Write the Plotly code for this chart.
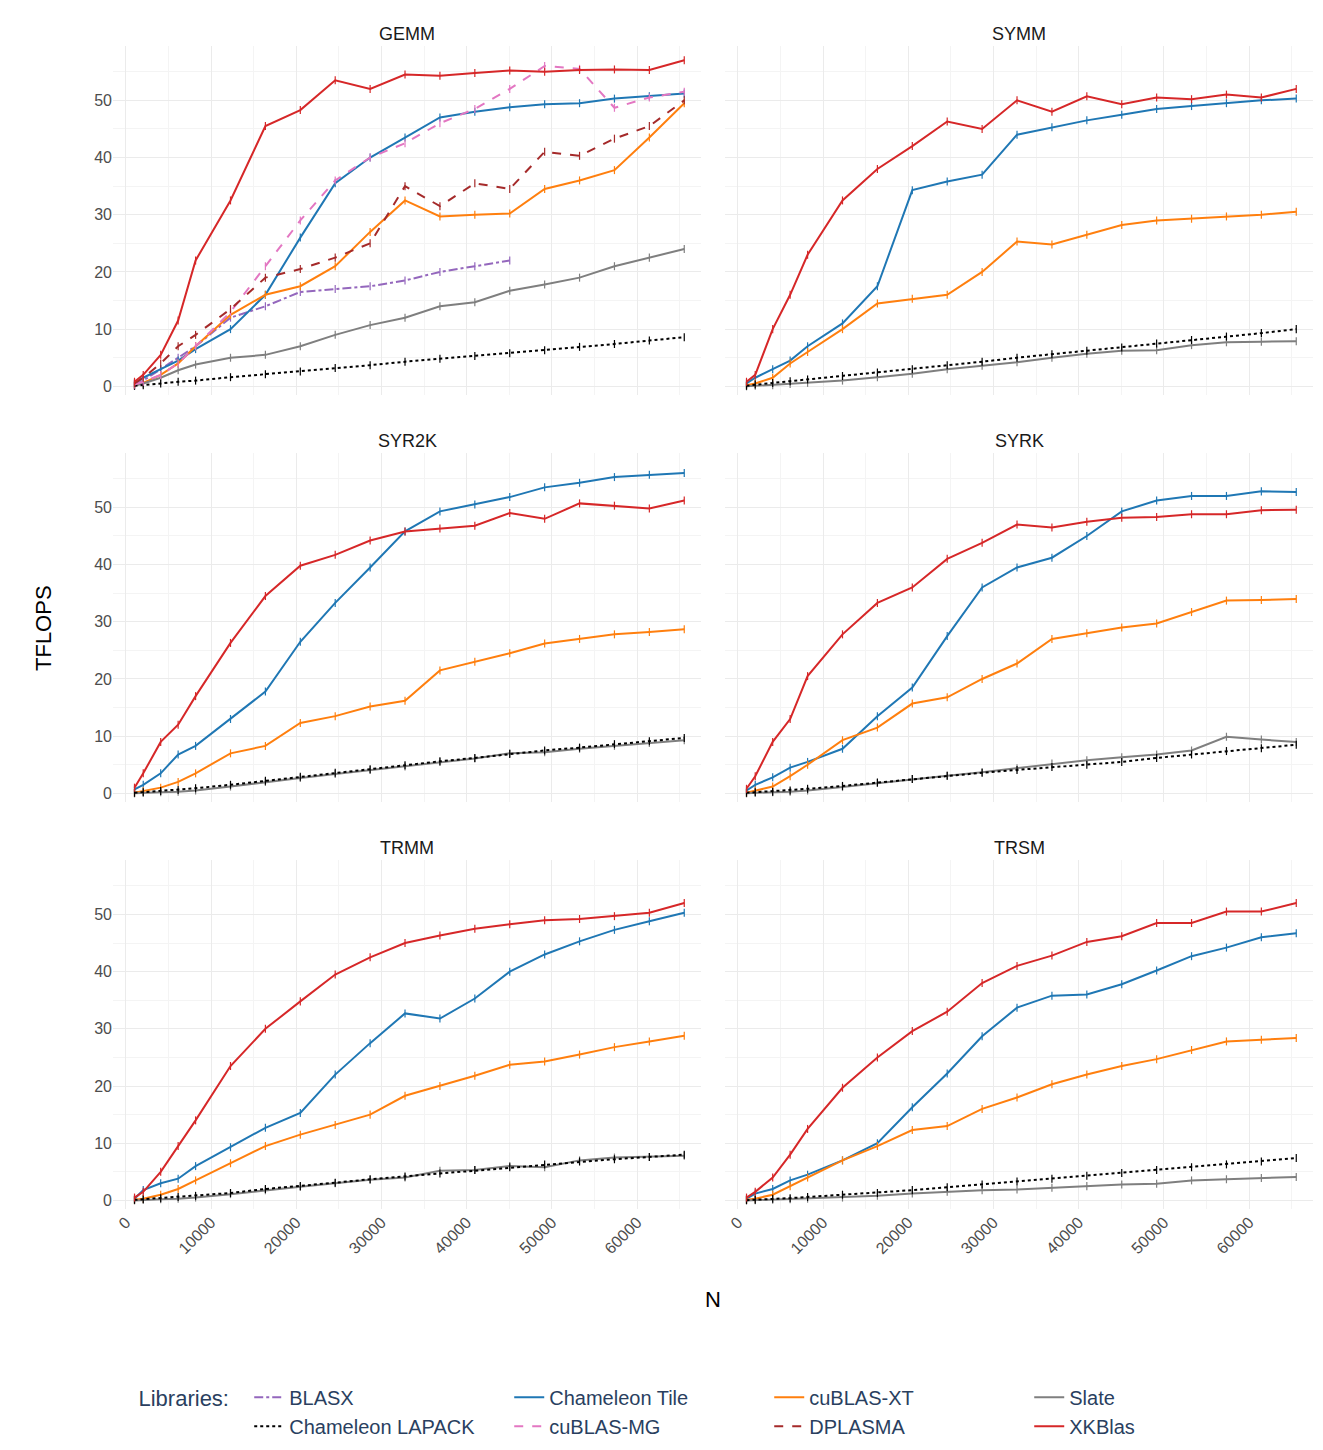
import plotly.graph_objects as go
from plotly.subplots import make_subplots

N = [1024, 2048, 4096, 6144, 8192, 12288, 16384, 20480, 24576, 28672, 32768,
     36864, 40960, 45056, 49152, 53248, 57344, 61440, 65536]

# TFLOPS per routine and library
gemm = {
    "XKBlas": [0.8, 2, 5.5, 11.5, 22, 32.5, 45.5, 48.3, 53.5, 52, 54.5, 54.3, 54.8, 55.2, 55, 55.3, 55.4, 55.3, 57],
    "Chameleon Tile": [0.5, 1.5, 3, 4.5, 6.5, 10, 16, 26, 35.5, 40, 43.5, 47, 48, 48.8, 49.3, 49.5, 50.3, 50.7, 51.2],
    "cuBLAS-MG": [0.3, 0.8, 2, 4, 7, 13, 21, 29, 36, 40, 42.5, 46, 48.5, 52, 56, 55.5, 48.7, 50.5, 51.5],
    "cuBLAS-XT": [0.2, 0.6, 2, 4, 7, 12.5, 16, 17.5, 21, 27, 32.5, 29.7, 30, 30.2, 34.5, 36, 37.8, 43.5, 49.5],
    "DPLASMA": [0.5, 1.5, 4, 7, 9, 13.5, 19, 20.5, 22.5, 25, 35, 31.5, 35.5, 34.5, 41, 40.3, 43.3, 45.5, 50],
    "BLASX": [0.3, 1, 3, 5, 7, 12, 14, 16.5, 17, 17.5, 18.5, 20, 21, 22],
    "Slate": [0.1, 0.5, 1.5, 2.8, 3.8, 5, 5.5, 7, 9, 10.7, 12, 14, 14.7, 16.7, 17.8, 19, 21, 22.5, 24],
    "Chameleon LAPACK": [0.1, 0.2, 0.5, 0.8, 1, 1.6, 2.1, 2.6, 3.2, 3.7, 4.3, 4.8, 5.3, 5.8, 6.3, 6.9, 7.4, 8, 8.6],
}
symm = {
    "XKBlas": [0.8, 2, 10, 16, 23, 32.5, 38, 42, 46.3, 45, 50, 48, 50.7, 49.3, 50.5, 50.2, 51, 50.5, 52],
    "Chameleon Tile": [0.5, 1.5, 3, 4.5, 7, 11, 17.5, 34.3, 35.8, 37, 44, 45.3, 46.5, 47.5, 48.5, 49, 49.5, 50, 50.3],
    "cuBLAS-XT": [0.2, 0.5, 1.5, 4, 6, 10, 14.5, 15.3, 16, 20, 25.3, 24.8, 26.5, 28.2, 29, 29.3, 29.7, 30, 30.5],
    "Slate": [0, 0.1, 0.2, 0.4, 0.6, 1, 1.6, 2.2, 3, 3.6, 4.2, 5, 5.7, 6.2, 6.3, 7.2, 7.7, 7.8, 7.9],
    "Chameleon LAPACK": [0.1, 0.3, 0.6, 0.9, 1.2, 1.8, 2.4, 3, 3.7, 4.3, 5, 5.6, 6.2, 6.8, 7.5, 8.1, 8.7, 9.3, 10],
}
syr2k = {
    "XKBlas": [1, 3.5, 9, 12, 17, 26.3, 34.5, 39.8, 41.7, 44.2, 45.8, 46.3, 46.8, 49, 48, 50.7, 50.3, 49.8, 51.2],
    "Chameleon Tile": [0.7, 1.5, 3.5, 6.8, 8.3, 13, 17.8, 26.5, 33.3, 39.5, 45.8, 49.3, 50.5, 51.8, 53.5, 54.3, 55.3, 55.7, 56],
    "cuBLAS-XT": [0.1, 0.4, 1, 2, 3.5, 7, 8.3, 12.3, 13.5, 15.2, 16.2, 21.5, 23, 24.5, 26.2, 27, 27.8, 28.2, 28.7],
    "Slate": [0, 0.1, 0.2, 0.3, 0.5, 1.2, 2, 2.7, 3.4, 4.1, 4.7, 5.5, 6.1, 7, 7.2, 7.8, 8.3, 8.8, 9.3],
    "Chameleon LAPACK": [0.1, 0.2, 0.4, 0.6, 0.9, 1.5, 2.2, 2.9, 3.6, 4.2, 4.9, 5.6, 6.2, 6.9, 7.5, 8, 8.6, 9.1, 9.7],
}
syrk = {
    "XKBlas": [0.8, 3, 9, 13, 20.5, 27.8, 33.3, 36, 41, 43.8, 47, 46.5, 47.5, 48.2, 48.3, 48.8, 48.8, 49.5, 49.6],
    "Chameleon Tile": [0.5, 1.5, 2.8, 4.5, 5.5, 7.8, 13.5, 18.5, 27.5, 36, 39.5, 41.2, 45, 49.3, 51.2, 52, 52, 52.8, 52.7],
    "cuBLAS-XT": [0.1, 0.5, 1.2, 3, 5, 9.3, 11.5, 15.7, 16.8, 20, 22.7, 27, 28, 29, 29.7, 31.7, 33.7, 33.8, 34],
    "Slate": [0, 0.1, 0.2, 0.3, 0.5, 1.1, 1.8, 2.5, 3.1, 3.7, 4.4, 5.2, 5.8, 6.3, 6.8, 7.5, 9.9, 9.4, 9],
    "Chameleon LAPACK": [0.1, 0.2, 0.3, 0.5, 0.8, 1.3, 1.9, 2.5, 3.1, 3.6, 4.1, 4.6, 5, 5.5, 6.2, 6.8, 7.4, 7.9, 8.5],
}
trmm = {
    "XKBlas": [0.5, 1.5, 5, 9.5, 14, 23.5, 30, 34.8, 39.5, 42.5, 45, 46.3, 47.5, 48.3, 49, 49.2, 49.7, 50.3, 52],
    "Chameleon Tile": [0.3, 1.8, 3, 3.8, 6, 9.3, 12.7, 15.3, 22, 27.5, 32.7, 31.8, 35.3, 40, 43, 45.3, 47.3, 48.8, 50.3],
    "cuBLAS-XT": [0.1, 0.3, 1, 2, 3.5, 6.5, 9.5, 11.5, 13.2, 15, 18.3, 20, 21.8, 23.7, 24.3, 25.5, 26.8, 27.8, 28.8],
    "Slate": [0, 0.1, 0.2, 0.3, 0.5, 1.1, 1.8, 2.4, 3, 3.6, 4, 5.2, 5.3, 6, 5.8, 7, 7.5, 7.6, 7.8],
    "Chameleon LAPACK": [0.1, 0.2, 0.4, 0.6, 0.8, 1.3, 2, 2.5, 3.1, 3.7, 4.2, 4.7, 5.3, 5.8, 6.3, 6.8, 7.2, 7.6, 8],
}
trsm = {
    "XKBlas": [0.5, 1.5, 4, 8, 12.5, 19.7, 25, 29.6, 33, 38, 41, 42.8, 45.2, 46.2, 48.5, 48.5, 50.5, 50.5, 52],
    "Chameleon Tile": [0.3, 1.2, 2, 3.5, 4.5, 7, 10, 16.3, 22.2, 28.7, 33.7, 35.8, 36, 37.8, 40.2, 42.7, 44.2, 46, 46.7],
    "cuBLAS-XT": [0.1, 0.3, 1, 2.5, 4, 7, 9.5, 12.3, 13, 16, 18, 20.3, 22, 23.5, 24.7, 26.3, 27.8, 28.1, 28.4],
    "Slate": [0, 0.05, 0.1, 0.2, 0.3, 0.5, 0.8, 1.2, 1.5, 1.8, 1.9, 2.2, 2.5, 2.8, 2.9, 3.5, 3.7, 3.9, 4.1],
    "Chameleon LAPACK": [0.05, 0.1, 0.3, 0.4, 0.6, 1, 1.3, 1.8, 2.3, 2.8, 3.3, 3.8, 4.3, 4.8, 5.3, 5.8, 6.3, 6.8, 7.4],
}

panels = [("GEMM", gemm), ("SYMM", symm), ("SYR2K", syr2k),
          ("SYRK", syrk), ("TRMM", trmm), ("TRSM", trsm)]

x_ticks = [0, 10000, 20000, 30000, 40000, 50000, 60000]
y_ticks = [0, 10, 20, 30, 40, 50]

# legend order (row-major to get ggplot's column-major look)
libs = ["BLASX", "Chameleon Tile", "cuBLAS-XT", "Slate",
        "Chameleon LAPACK", "cuBLAS-MG", "DPLASMA", "XKBlas"]
styles = {
    "BLASX": ("#9467bd", "dashdot"),
    "Chameleon LAPACK": ("black", "dot"),
    "Chameleon Tile": ("#1f77b4", "solid"),
    "cuBLAS-MG": ("#e377c2", "dash"),
    "cuBLAS-XT": ("#ff7f0e", "solid"),
    "DPLASMA": ("#a52a2a", "dash"),
    "Slate": ("#7f7f7f", "solid"),
    "XKBlas": ("#d62728", "solid"),
}

fig = make_subplots(rows=3, cols=2, shared_xaxes=True, shared_yaxes=True,
                    subplot_titles=[p[0] for p in panels],
                    horizontal_spacing=0.02, vertical_spacing=0.05)

for lib in libs:
    color, dash = styles[lib]
    first = True
    for i, (name, data) in enumerate(panels):
        if lib not in data:
            continue
        y = data[lib]
        fig.add_trace(go.Scatter(
            x=N[:len(y)], y=y, mode="lines", name=lib, legendgroup=lib,
            showlegend=first,
            line=dict(color=color, dash=dash, width=2),
            error_y=dict(type="constant", value=0.7, color=color, thickness=1.2, width=0),
        ), row=i // 2 + 1, col=i % 2 + 1)
        first = False

grid = "#ebebeb"
fig.update_xaxes(range=[-1500, 67500], tickvals=x_ticks, ticktext=[str(v) for v in x_ticks],
                 tickangle=-45, showgrid=True, gridcolor=grid, gridwidth=1.3,
                 minor=dict(dtick=5000, tick0=0, showgrid=True, gridcolor="#f4f4f4"),
                 zeroline=False, showline=False,
                 tickfont=dict(size=16, color="#4d4d4d"))
fig.update_yaxes(range=[-1.5, 59.5], tickvals=y_ticks,
                 showgrid=True, gridcolor=grid, gridwidth=1.3,
                 minor=dict(dtick=5, tick0=0, showgrid=True, gridcolor="#f4f4f4"),
                 zeroline=False, showline=False,
                 tickfont=dict(size=16, color="#4d4d4d"))
fig.update_annotations(font=dict(size=18, color="#1a1a1a"))

fig.add_annotation(text="N", xref="paper", yref="paper", x=0.5, y=-0.09,
                   showarrow=False, font=dict(size=22, color="black"))
fig.add_annotation(text="TFLOPS", xref="paper", yref="paper", x=-0.07, y=0.5,
                   textangle=-90, showarrow=False, font=dict(size=22, color="black"))

fig.update_layout(
    width=1323, height=1450, plot_bgcolor="white", paper_bgcolor="white",
    font=dict(family="Liberation Sans, Arial, sans-serif"),
    margin=dict(l=105, r=18, t=38, b=240),
    legend=dict(orientation="h", x=0.5, xanchor="center", y=-0.145, yanchor="top",
                title=dict(text="Libraries:  ", font=dict(size=22), side="left"),
                entrywidth=215, font=dict(size=20), tracegroupgap=0),
)

fig.write_html("out.html")
